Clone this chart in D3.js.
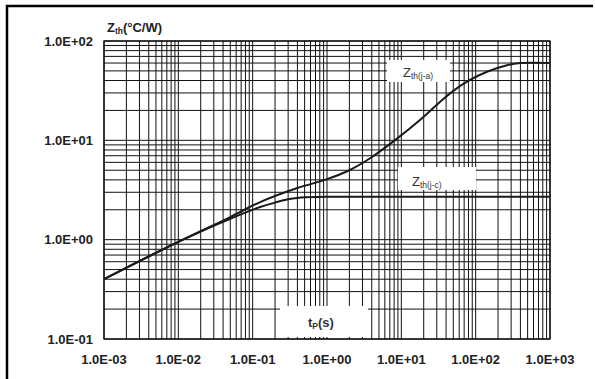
<!DOCTYPE html>
<html>
<head>
  <meta charset="utf-8">
  <title>Zth</title>
  <script src="https://cdn.jsdelivr.net/npm/d3@7"></script>
  <style>
    body { margin: 0; background: #fff; }
    text { font-family: Arial, "Liberation Sans", sans-serif; }
  </style>
</head>
<body>
  <svg width="595" height="379" id="mainsvg"></svg>
  <script>
    // thermal impedance curves
    const tpJA = [0.001, 0.01, 0.05, 0.126, 0.4, 0.94, 2.0, 3.8, 8.75, 17.8, 33, 50, 84, 142, 264, 400, 1000];
    const zJA = [0.40, 0.95, 1.69, 2.39, 3.31, 4.0, 5.0, 6.6, 10.4, 16.0, 24.3, 31.5, 40.5, 49, 57, 60, 60];
    const tpJC = [0.001, 0.01, 0.05, 0.126, 0.2, 0.3, 0.5, 1, 1000];
    const zJC = [0.40, 0.95, 1.62, 2.13, 2.36, 2.55, 2.68, 2.7, 2.7];

    const xTicks = [1e-3, 1e-2, 1e-1, 1e0, 1e1, 1e2, 1e3];
    const xTickLabels = ['1.0E-03', '1.0E-02', '1.0E-01', '1.0E+00', '1.0E+01', '1.0E+02', '1.0E+03'];
    const yTicks = [1e-1, 1e0, 1e1, 1e2];
    const yTickLabels = ['1.0E-01', '1.0E+00', '1.0E+01', '1.0E+02'];

    const svg = d3.select('#mainsvg');
    const margin = { top: 41, right: 45, bottom: 40, left: 104 };
    const width = +svg.attr('width');
    const height = +svg.attr('height');
    const innerWidth = width - margin.left - margin.right;
    const innerHeight = height - margin.top - margin.bottom;

    // outer frame (top and left only)
    svg.append('path')
      .attr('d', 'M7,379 L7,6 L593,6')
      .attr('fill', 'none')
      .attr('stroke', '#000')
      .attr('stroke-width', 2.5);

    const g = svg.append('g')
      .attr('transform', `translate(${margin.left}, ${margin.top})`);

    const x = d3.scaleLog().domain([1e-3, 1e3]).range([0, innerWidth]);
    const y = d3.scaleLog().domain([1e-1, 1e2]).range([innerHeight, 0]);

    // log grid: 1..9 in every decade
    const minor = (lo, hi) => {
      const out = [];
      for (let e = lo; e < hi; e++) for (let k = 1; k <= 9; k++) out.push(k * Math.pow(10, e));
      out.push(Math.pow(10, hi));
      return out;
    };

    g.append('g').selectAll('line').data(minor(-3, 3)).join('line')
      .attr('x1', d => x(d)).attr('x2', d => x(d))
      .attr('y1', 0).attr('y2', innerHeight)
      .attr('stroke', '#111').attr('stroke-width', 1);

    g.append('g').selectAll('line').data(minor(-1, 2)).join('line')
      .attr('y1', d => y(d)).attr('y2', d => y(d))
      .attr('x1', 0).attr('x2', innerWidth)
      .attr('stroke', '#111').attr('stroke-width', 1);

    g.append('rect')
      .attr('width', innerWidth).attr('height', innerHeight)
      .attr('fill', 'none').attr('stroke', '#000').attr('stroke-width', 1.2);

    // curves
    const line = d3.line().x(d => x(d[0])).y(d => y(d[1])).curve(d3.curveCatmullRom.alpha(0.5));
    g.append('path').datum(d3.zip(tpJA, zJA))
      .attr('d', line).attr('fill', 'none').attr('stroke', '#1a1a1a').attr('stroke-width', 2);
    g.append('path').datum(d3.zip(tpJC, zJC))
      .attr('d', d3.line().x(d => x(d[0])).y(d => y(d[1])).curve(d3.curveMonotoneX))
      .attr('fill', 'none').attr('stroke', '#1a1a1a').attr('stroke-width', 2);

    // white label boxes
    const box = (x0, y0, w, h) => svg.append('rect')
      .attr('x', x0).attr('y', y0).attr('width', w).attr('height', h).attr('fill', '#fff');
    box(387, 60, 63, 22);
    box(398, 167, 78, 23);
    box(280, 306, 88, 31);

    const subLabel = (tx, ty, main, sub, rest, bold, fill, size) => {
      const t = svg.append('text').attr('x', tx).attr('y', ty)
        .attr('font-size', size).attr('font-weight', bold ? 'bold' : 'normal').attr('fill', fill);
      t.append('tspan').text(main);
      t.append('tspan').attr('font-size', size * 0.65).attr('dy', 2).text(sub);
      t.append('tspan').attr('dy', -2).text(rest);
      return t;
    };
    subLabel(403, 77, 'Z', 'th(j-a)', '', false, '#333', 13);
    subLabel(412, 186, 'Z', 'th(j-c)', '', false, '#333', 13);
    subLabel(308, 327, 't', 'P', '(s)', true, '#333', 13);
    subLabel(107, 32, 'Z', 'th', '(°C/W)', true, '#222', 13);

    // tick labels
    svg.append('g').selectAll('text').data(yTicks).join('text')
      .attr('x', 93).attr('y', d => margin.top + y(d))
      .attr('dy', '0.35em')
      .attr('text-anchor', 'end')
      .attr('font-size', 13).attr('font-weight', 'bold').attr('fill', '#222')
      .text((d, i) => yTickLabels[i]);

    svg.append('g').selectAll('text').data(xTicks).join('text')
      .attr('x', d => margin.left + x(d)).attr('y', 364)
      .attr('text-anchor', 'middle')
      .attr('font-size', 13).attr('font-weight', 'bold').attr('fill', '#222')
      .text((d, i) => xTickLabels[i]);
  </script>
</body>
</html>
